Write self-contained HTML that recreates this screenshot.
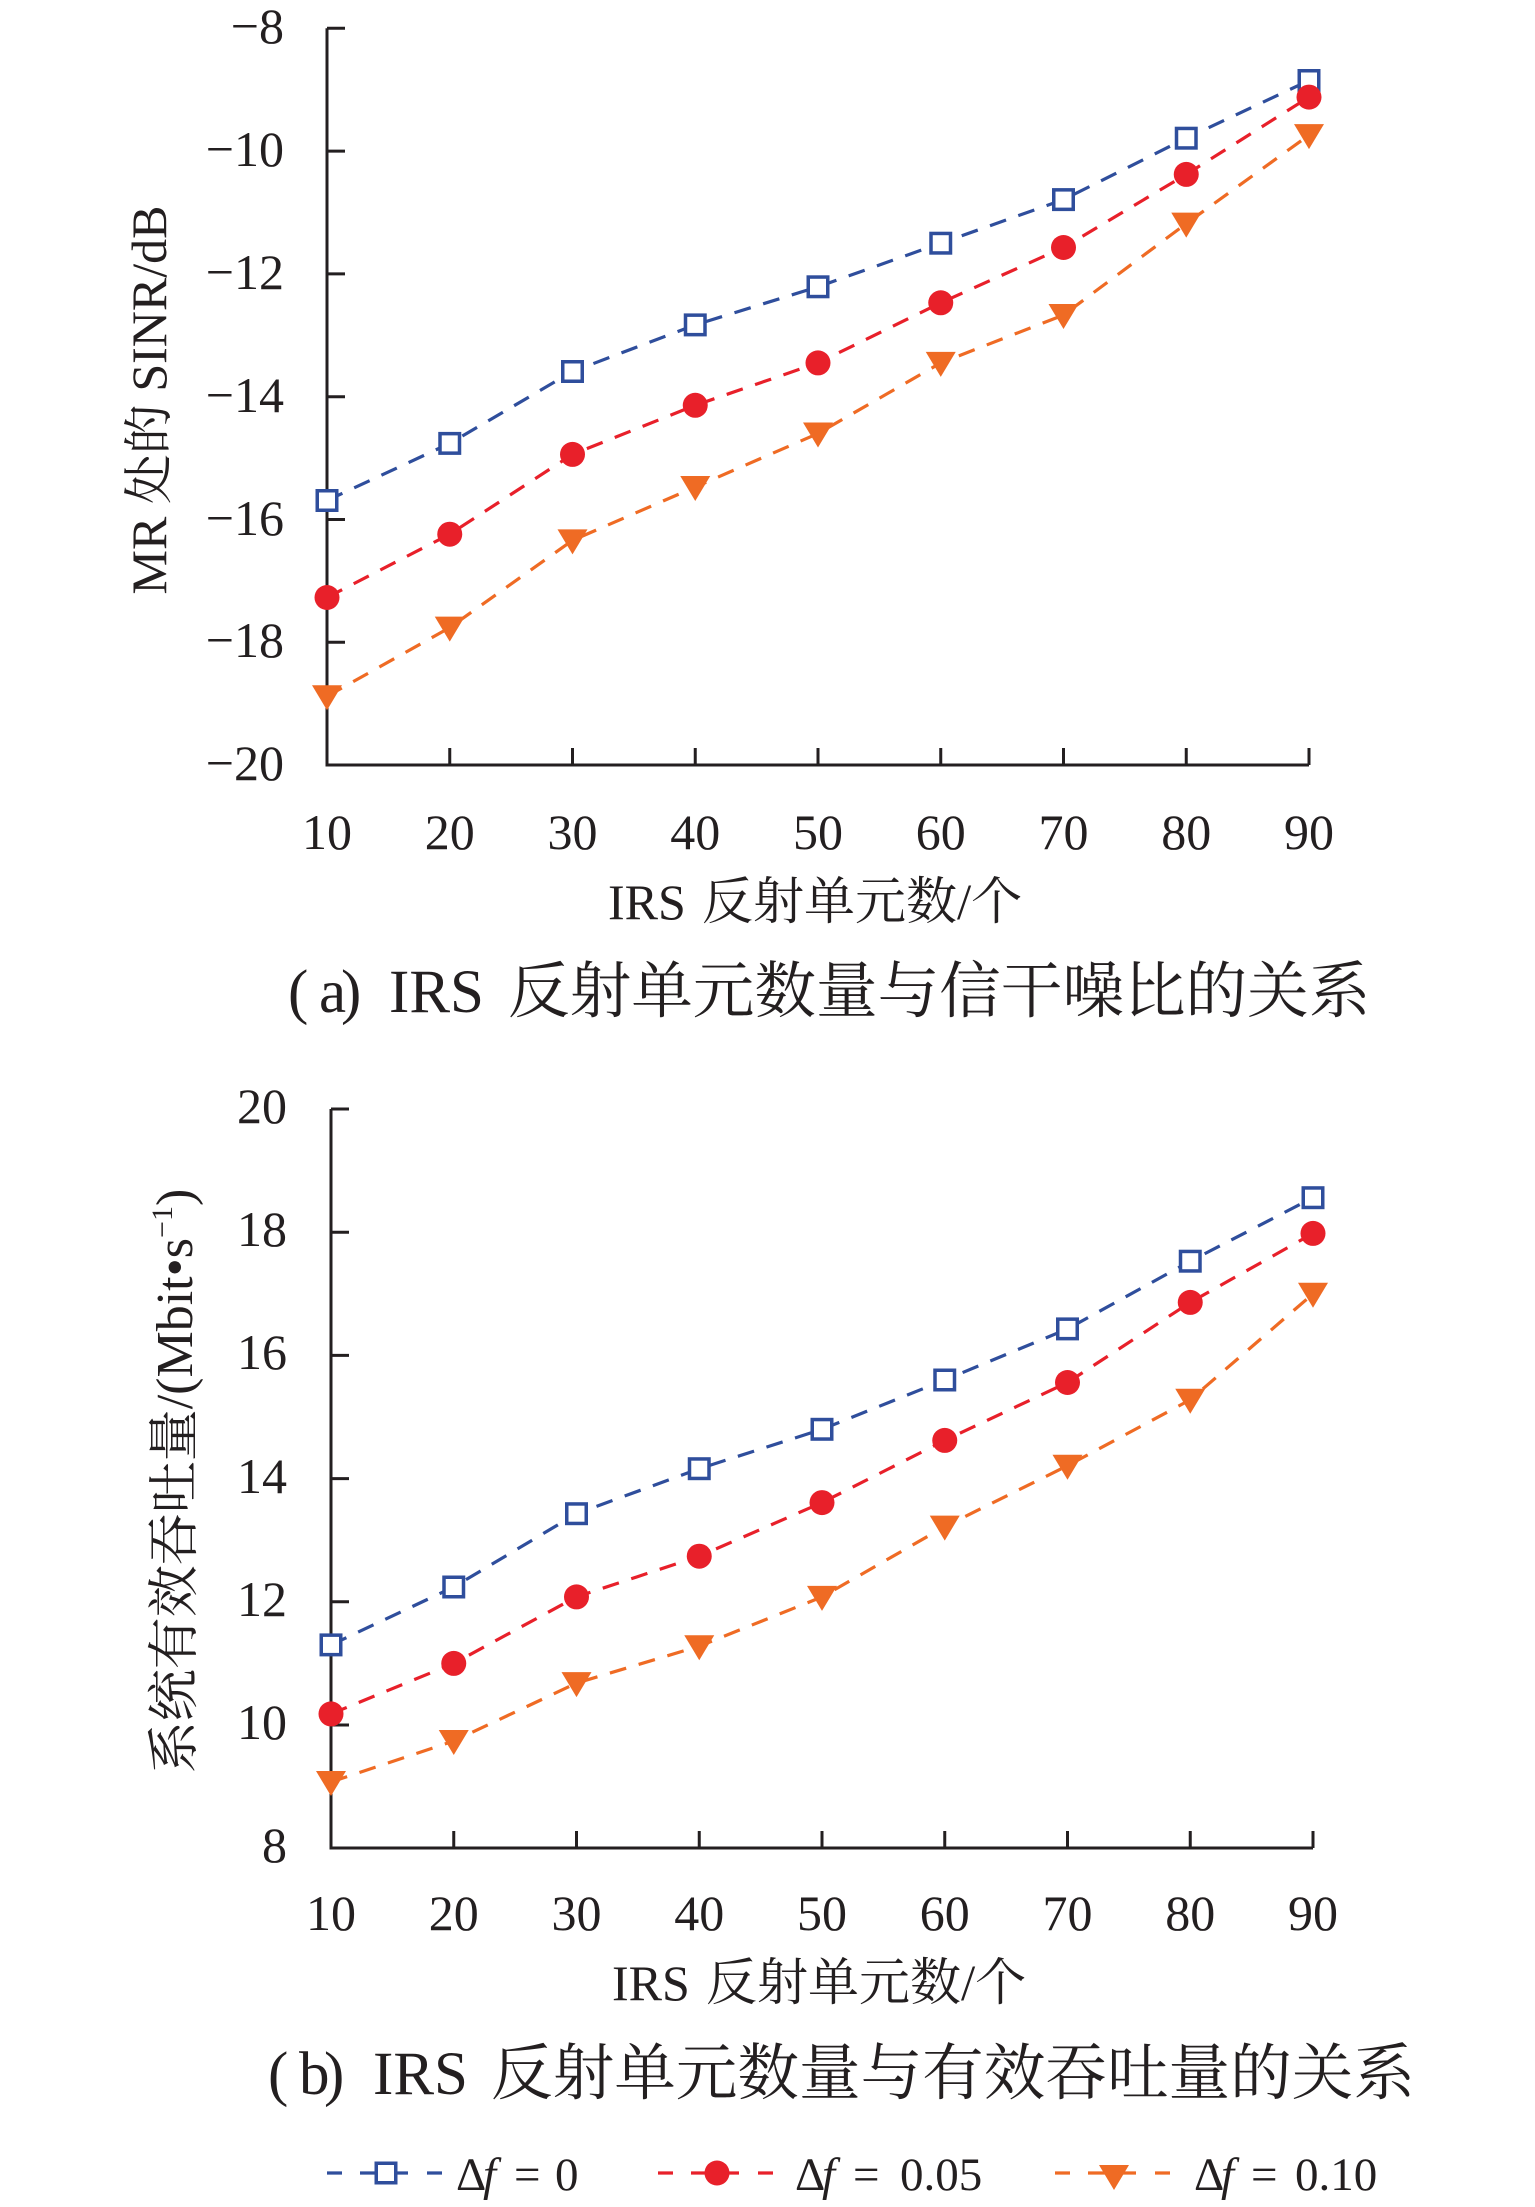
<!DOCTYPE html>
<html>
<head>
<meta charset="utf-8">
<style>
html,body{margin:0;padding:0;background:#fff;}
svg{display:block;}
text{font-family:"Liberation Serif","Noto Serif CJK SC",serif;fill:#231f20;}
</style>
</head>
<body>
<svg width="1535" height="2207" viewBox="0 0 1535 2207" xmlns="http://www.w3.org/2000/svg">
<rect width="1535" height="2207" fill="#fff"/>

<!-- ================= Chart (a) ================= -->
<g stroke="#231f20" stroke-width="3" fill="none">
  <path d="M327,28.3 V765 H1309"/>
  <path d="M327,28.3 H345 M327,151.1 H345 M327,273.9 H345 M327,396.7 H345 M327,519.5 H345 M327,642.3 H345"/>
  <path d="M449.75,765 V748 M572.5,765 V748 M695.25,765 V748 M818,765 V748 M940.75,765 V748 M1063.5,765 V748 M1186.25,765 V748 M1309,765 V748"/>
</g>
<g font-size="50" text-anchor="end">
  <text x="284" y="43">−8</text>
  <text x="284" y="166">−10</text>
  <text x="284" y="289">−12</text>
  <text x="284" y="412">−14</text>
  <text x="284" y="535">−16</text>
  <text x="284" y="657">−18</text>
  <text x="284" y="780">−20</text>
</g>
<g font-size="50" text-anchor="middle">
  <text x="327" y="849">10</text>
  <text x="449.75" y="849">20</text>
  <text x="572.5" y="849">30</text>
  <text x="695.25" y="849">40</text>
  <text x="818" y="849">50</text>
  <text x="940.75" y="849">60</text>
  <text x="1063.5" y="849">70</text>
  <text x="1186.25" y="849">80</text>
  <text x="1309" y="849">90</text>
</g>
<text font-size="50" x="608" y="919">IRS</text>
<text font-size="51" x="702" y="919">反射单元数/个</text>
<text font-size="50" text-anchor="middle" transform="translate(166,400) rotate(-90)">MR 处的 SINR/dB</text>

<text font-size="61" x="288" y="1012">(</text>
<text font-size="61" x="319" y="1012">a</text>
<text font-size="61" x="341" y="1012">)</text>
<text font-size="61" x="389" y="1012">IRS</text>
<text font-size="61.6" x="508" y="1012">反射单元数量与信干噪比的关系</text>

<!-- lines a -->
<g fill="none" stroke-width="3.2" stroke-dasharray="17 13">
  <polyline stroke="#ef6b24" points="327,696.3 449.75,627.6 572.5,540.4 695.25,487 818,433.5 940.75,362.9 1063.5,315 1186.25,223.6 1309,135.1"/>
  <polyline stroke="#e8202a" points="327,597.5 449.75,534.2 572.5,454.4 695.25,405.3 818,362.9 940.75,302.8 1063.5,247.5 1186.25,174.4 1309,97.1"/>
  <polyline stroke="#2f4e9c" points="327,500.5 449.75,443.4 572.5,371.5 695.25,324.9 818,286.8 940.75,243.2 1063.5,199.6 1186.25,138.2 1309,80.5"/>
</g>
<g fill="#fff" stroke="#2f4e9c" stroke-width="3.5">
  <rect x="317.25" y="490.75" width="19.5" height="19.5"/>
  <rect x="440" y="433.65" width="19.5" height="19.5"/>
  <rect x="562.75" y="361.75" width="19.5" height="19.5"/>
  <rect x="685.5" y="315.15" width="19.5" height="19.5"/>
  <rect x="808.25" y="277.05" width="19.5" height="19.5"/>
  <rect x="931" y="233.45" width="19.5" height="19.5"/>
  <rect x="1053.75" y="189.85" width="19.5" height="19.5"/>
  <rect x="1176.5" y="128.45" width="19.5" height="19.5"/>
  <rect x="1299.25" y="70.75" width="19.5" height="19.5"/>
</g>
<g fill="#e8202a">
  <circle cx="327" cy="597.5" r="12.5"/>
  <circle cx="449.75" cy="534.2" r="12.5"/>
  <circle cx="572.5" cy="454.4" r="12.5"/>
  <circle cx="695.25" cy="405.3" r="12.5"/>
  <circle cx="818" cy="362.9" r="12.5"/>
  <circle cx="940.75" cy="302.8" r="12.5"/>
  <circle cx="1063.5" cy="247.5" r="12.5"/>
  <circle cx="1186.25" cy="174.4" r="12.5"/>
  <circle cx="1309" cy="97.1" r="12.5"/>
</g>
<g fill="#ef6b24">
  <polygon points="312,685.3 342,685.3 327,710.3"/>
  <polygon points="434.75,616.6 464.75,616.6 449.75,641.6"/>
  <polygon points="557.5,529.4 587.5,529.4 572.5,554.4"/>
  <polygon points="680.25,476 710.25,476 695.25,501"/>
  <polygon points="803,422.5 833,422.5 818,447.5"/>
  <polygon points="925.75,351.9 955.75,351.9 940.75,376.9"/>
  <polygon points="1048.5,304 1078.5,304 1063.5,329"/>
  <polygon points="1171.25,212.6 1201.25,212.6 1186.25,237.6"/>
  <polygon points="1294,124.1 1324,124.1 1309,149.1"/>
</g>

<!-- ================= Chart (b) ================= -->
<g stroke="#231f20" stroke-width="3" fill="none">
  <path d="M331,1109 V1848 H1313"/>
  <path d="M331,1109 H349 M331,1232.2 H349 M331,1355.4 H349 M331,1478.6 H349 M331,1601.8 H349 M331,1725 H349"/>
  <path d="M453.75,1848 V1831 M576.5,1848 V1831 M699.25,1848 V1831 M822,1848 V1831 M944.75,1848 V1831 M1067.5,1848 V1831 M1190.25,1848 V1831 M1313,1848 V1831"/>
</g>
<g font-size="50" text-anchor="end">
  <text x="287" y="1123">20</text>
  <text x="287" y="1246">18</text>
  <text x="287" y="1369">16</text>
  <text x="287" y="1493">14</text>
  <text x="287" y="1616">12</text>
  <text x="287" y="1739">10</text>
  <text x="287" y="1862">8</text>
</g>
<g font-size="50" text-anchor="middle">
  <text x="331" y="1930">10</text>
  <text x="453.75" y="1930">20</text>
  <text x="576.5" y="1930">30</text>
  <text x="699.25" y="1930">40</text>
  <text x="822" y="1930">50</text>
  <text x="944.75" y="1930">60</text>
  <text x="1067.5" y="1930">70</text>
  <text x="1190.25" y="1930">80</text>
  <text x="1313" y="1930">90</text>
</g>
<text font-size="50" x="612" y="2000">IRS</text>
<text font-size="51" x="706" y="2000">反射单元数/个</text>
<text font-size="52" text-anchor="middle" transform="translate(192,1481) rotate(-90)">系统有效吞吐量/(Mbit•s<tspan font-size="30" dy="-20">−1</tspan><tspan dy="20">)</tspan></text>

<text font-size="61" x="268" y="2094">(</text>
<text font-size="61" x="299" y="2094">b</text>
<text font-size="61" x="324" y="2094">)</text>
<text font-size="61" x="373" y="2094">IRS</text>
<text font-size="61.6" x="491" y="2094">反射单元数量与有效吞吐量的关系</text>

<!-- lines b -->
<g fill="none" stroke-width="3.2" stroke-dasharray="17 13">
  <polyline stroke="#ef6b24" points="331,1782 453.75,1741 576.5,1683.1 699.25,1646.2 822,1596.9 944.75,1526.6 1067.5,1465.7 1190.25,1399.8 1313,1293.8"/>
  <polyline stroke="#e8202a" points="331,1713.9 453.75,1663.4 576.5,1596.9 699.25,1556.2 822,1502.6 944.75,1440.4 1067.5,1382.5 1190.25,1302.4 1313,1233.4"/>
  <polyline stroke="#2f4e9c" points="331,1644.9 453.75,1587 576.5,1513.7 699.25,1468.7 822,1429.3 944.75,1380 1067.5,1328.9 1190.25,1261.2 1313,1197.7"/>
</g>
<g fill="#fff" stroke="#2f4e9c" stroke-width="3.5">
  <rect x="321.25" y="1635.15" width="19.5" height="19.5"/>
  <rect x="444" y="1577.25" width="19.5" height="19.5"/>
  <rect x="566.75" y="1503.95" width="19.5" height="19.5"/>
  <rect x="689.5" y="1458.95" width="19.5" height="19.5"/>
  <rect x="812.25" y="1419.55" width="19.5" height="19.5"/>
  <rect x="935" y="1370.25" width="19.5" height="19.5"/>
  <rect x="1057.75" y="1319.15" width="19.5" height="19.5"/>
  <rect x="1180.5" y="1251.45" width="19.5" height="19.5"/>
  <rect x="1303.25" y="1187.95" width="19.5" height="19.5"/>
</g>
<g fill="#e8202a">
  <circle cx="331" cy="1713.9" r="12.5"/>
  <circle cx="453.75" cy="1663.4" r="12.5"/>
  <circle cx="576.5" cy="1596.9" r="12.5"/>
  <circle cx="699.25" cy="1556.2" r="12.5"/>
  <circle cx="822" cy="1502.6" r="12.5"/>
  <circle cx="944.75" cy="1440.4" r="12.5"/>
  <circle cx="1067.5" cy="1382.5" r="12.5"/>
  <circle cx="1190.25" cy="1302.4" r="12.5"/>
  <circle cx="1313" cy="1233.4" r="12.5"/>
</g>
<g fill="#ef6b24">
  <polygon points="316,1771 346,1771 331,1796"/>
  <polygon points="438.75,1730 468.75,1730 453.75,1755"/>
  <polygon points="561.5,1672.1 591.5,1672.1 576.5,1697.1"/>
  <polygon points="684.25,1635.2 714.25,1635.2 699.25,1660.2"/>
  <polygon points="807,1585.9 837,1585.9 822,1610.9"/>
  <polygon points="929.75,1515.6 959.75,1515.6 944.75,1540.6"/>
  <polygon points="1052.5,1454.7 1082.5,1454.7 1067.5,1479.7"/>
  <polygon points="1175.25,1388.8 1205.25,1388.8 1190.25,1413.8"/>
  <polygon points="1298,1282.8 1328,1282.8 1313,1307.8"/>
</g>

<!-- ================= Legend ================= -->
<g stroke-width="3.2" fill="none">
  <path stroke="#2f4e9c" d="M327,2173 H342 M360,2173 H408 M427,2173 H442"/>
  <path stroke="#e8202a" d="M658,2173 H673 M691,2173 H739 M758,2173 H773"/>
  <path stroke="#ef6b24" d="M1055,2173 H1070 M1088,2173 H1136 M1155,2173 H1170"/>
</g>
<rect x="376.25" y="2163.25" width="19.5" height="19.5" fill="#fff" stroke="#2f4e9c" stroke-width="3.5"/>
<circle cx="717" cy="2173" r="12.5" fill="#e8202a"/>
<polygon points="1099,2165 1129,2165 1114,2190" fill="#ef6b24"/>

<g font-size="47">
  <text x="456" y="2190">Δ</text>
  <text x="483" y="2190" font-style="italic">f</text>
  <text x="514" y="2190">=</text>
  <text x="555" y="2190">0</text>

  <text x="795" y="2190">Δ</text>
  <text x="822" y="2190" font-style="italic">f</text>
  <text x="853" y="2190">=</text>
  <text x="900" y="2190">0.05</text>

  <text x="1194" y="2190">Δ</text>
  <text x="1221" y="2190" font-style="italic">f</text>
  <text x="1251" y="2190">=</text>
  <text x="1295" y="2190">0.10</text>
</g>
</svg>
</body>
</html>
